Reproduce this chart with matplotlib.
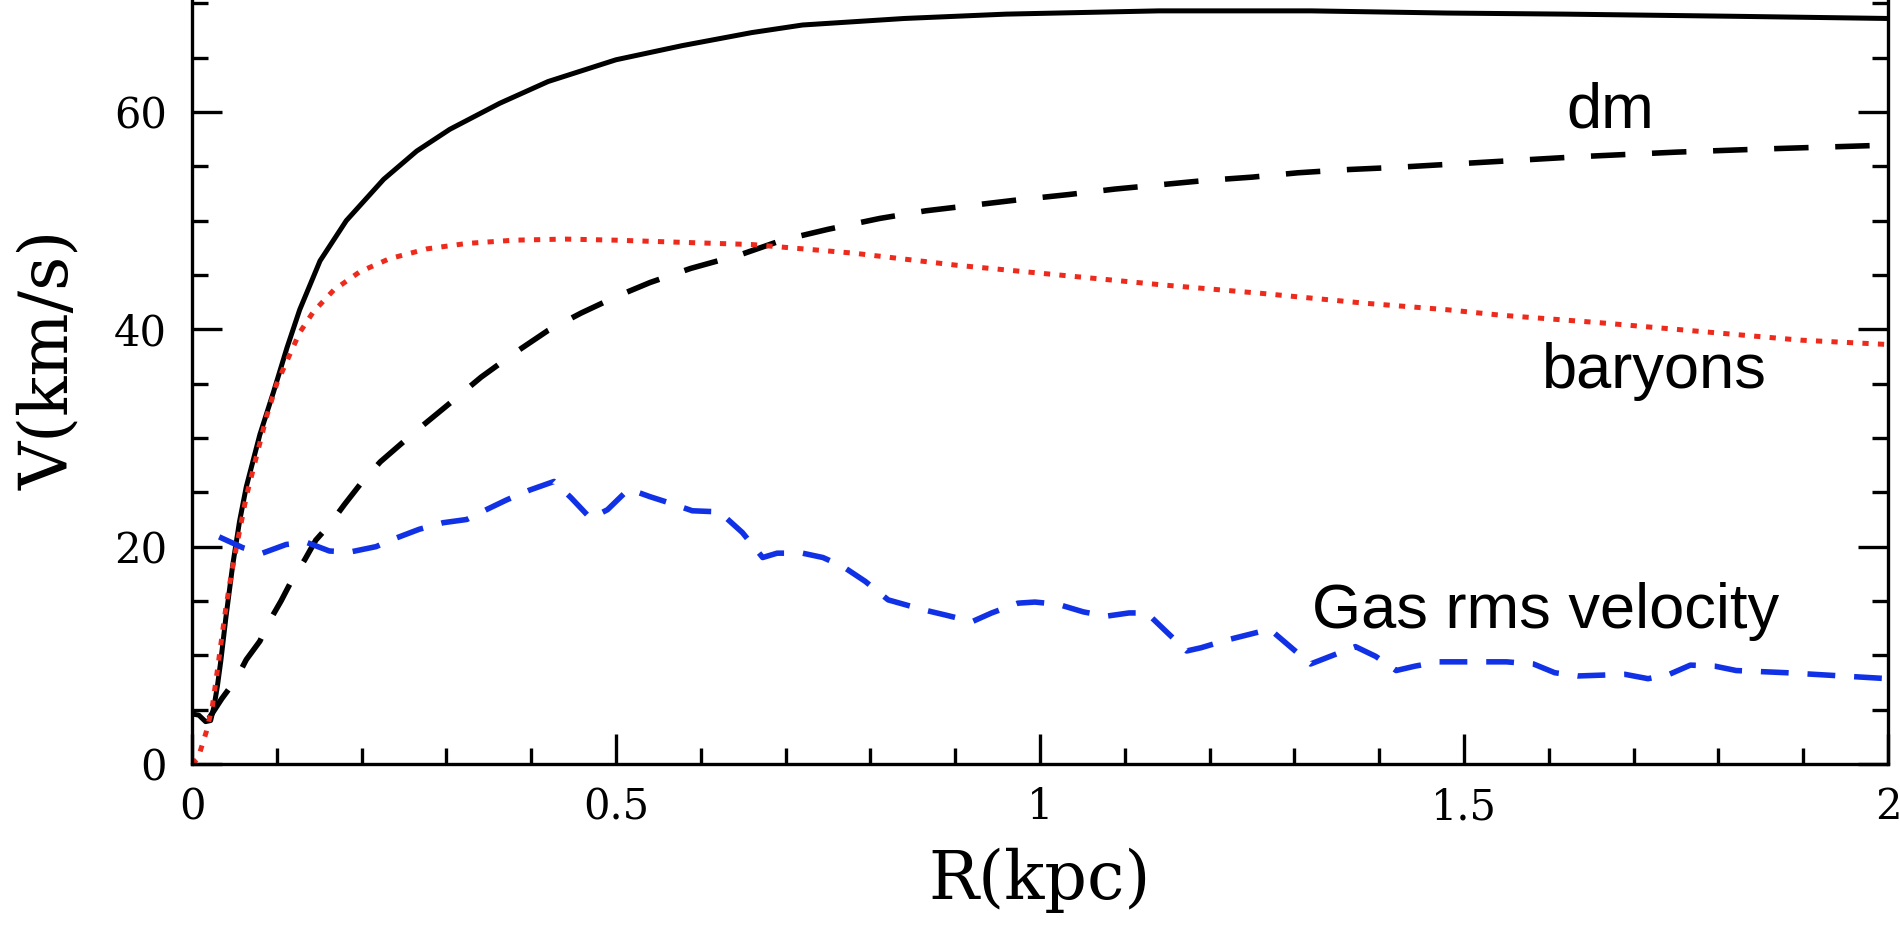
import matplotlib
matplotlib.use("Agg")
import matplotlib.pyplot as plt
from matplotlib.ticker import MultipleLocator, FuncFormatter

# Rotation curve components, V in km/s against R in kpc
r_total = [0.0, 0.008, 0.016, 0.022, 0.026, 0.030, 0.034, 0.040, 0.048, 0.056,
           0.064, 0.080, 0.096, 0.112, 0.127, 0.151, 0.182, 0.226, 0.265, 0.304,
           0.363, 0.42, 0.50, 0.578, 0.66, 0.72, 0.84, 0.96, 1.14, 1.32,
           1.48, 1.62, 1.82, 2.0]
v_total = [4.6, 4.5, 3.9, 4.0, 5.3, 7.2, 9.5, 13.5, 18.3, 22.3,
           25.5, 30.3, 34.2, 38.3, 41.8, 46.3, 50.0, 53.8, 56.4, 58.4,
           60.8, 62.8, 64.8, 66.1, 67.3, 68.0, 68.6, 69.0, 69.3, 69.3,
           69.1, 69.0, 68.8, 68.6]

r_dm = [0.02, 0.035, 0.052, 0.064, 0.080, 0.091, 0.105, 0.117, 0.133, 0.146,
        0.162, 0.180, 0.198, 0.222, 0.262, 0.301, 0.341, 0.38, 0.42, 0.459,
        0.50, 0.54, 0.588, 0.648, 0.696, 0.75, 0.811, 0.865, 0.919, 0.973,
        1.034, 1.088, 1.142, 1.196, 1.25, 1.304, 1.364, 1.42, 1.53, 1.64,
        1.75, 1.857, 1.98, 2.0]
v_dm = [4.2, 6.0, 7.8, 9.6, 11.3, 13.1, 15.0, 16.8, 18.8, 20.6,
        22.0, 23.9, 25.7, 27.8, 30.5, 33.0, 35.6, 37.8, 39.9, 41.5,
        43.0, 44.3, 45.6, 46.9, 48.2, 49.2, 50.2, 50.9, 51.4, 51.9,
        52.4, 52.9, 53.3, 53.7, 54.0, 54.4, 54.7, 54.9, 55.4, 55.9,
        56.3, 56.6, 56.9, 56.95]

r_bar = [0.0, 0.007, 0.017, 0.024, 0.028, 0.034, 0.040, 0.046, 0.054, 0.064,
         0.076, 0.088, 0.100, 0.116, 0.127, 0.143, 0.167, 0.198, 0.233, 0.277,
         0.324, 0.38, 0.44, 0.50, 0.578, 0.66, 0.781, 0.901, 1.022, 1.142,
         1.262, 1.383, 1.48, 1.543, 1.661, 1.779, 1.897, 2.0]
v_bar = [0.0, 0.5, 3.0, 5.3, 7.5, 11.0, 14.4, 17.3, 20.6, 24.6,
         28.3, 32.0, 35.0, 37.8, 39.7, 41.6, 43.6, 45.3, 46.5, 47.4,
         47.9, 48.2, 48.3, 48.2, 48.0, 47.8, 47.0, 45.9, 45.0, 44.1,
         43.3, 42.4, 41.8, 41.3, 40.6, 39.8, 39.0, 38.6]

r_gas = [0.032, 0.06, 0.083, 0.111, 0.135, 0.162, 0.186, 0.217, 0.241, 0.268,
         0.296, 0.324, 0.347, 0.371, 0.398, 0.427, 0.447, 0.47, 0.49, 0.515,
         0.54, 0.564, 0.59, 0.622, 0.649, 0.673, 0.69, 0.72, 0.744, 0.767,
         0.794, 0.821, 0.862, 0.889, 0.92, 0.943, 0.974, 0.994, 1.021, 1.051,
         1.078, 1.105, 1.126, 1.15, 1.173, 1.19, 1.22, 1.271, 1.295, 1.319,
         1.342, 1.372, 1.396, 1.42, 1.442, 1.47, 1.55, 1.582, 1.607, 1.634,
         1.69, 1.717, 1.742, 1.767, 1.796, 1.821, 1.88, 1.935, 2.0]
v_gas = [20.9, 19.9, 19.4, 20.2, 20.4, 19.6, 19.5, 20.0, 20.8, 21.6,
         22.2, 22.5, 23.4, 24.3, 25.2, 26.0, 24.5, 22.6, 23.4, 25.3,
         24.6, 24.0, 23.3, 23.2, 21.3, 19.0, 19.4, 19.4, 19.0, 18.2,
         16.8, 15.1, 14.2, 13.7, 13.1, 13.9, 14.8, 14.9, 14.7, 14.0,
         13.6, 13.9, 13.9, 12.1, 10.4, 10.7, 11.4, 12.4, 10.8, 9.2,
         9.9, 10.8, 9.9, 8.6, 9.0, 9.4, 9.4, 9.2, 8.4, 8.1,
         8.25, 7.85, 8.25, 9.1, 9.0, 8.6, 8.4, 8.15, 7.85]

fig = plt.figure(figsize=(19, 9.26), dpi=100)
ax = fig.add_axes([192 / 1900, 162 / 926, 1696 / 1900, 764 / 926])

ax.plot(r_total, v_total, color="black", lw=3.6,
        solid_capstyle="round", solid_joinstyle="round")
ax.plot(r_dm, v_dm, color="black", lw=4.0, linestyle=(0, (6.2, 4.8)))
ax.plot(r_bar, v_bar, color="#ee2a1c", lw=3.6, linestyle=(0, (1.25, 1.85)),
        dash_capstyle="butt")
ax.plot(r_gas, v_gas, color="#1131e6", lw=4.0, linestyle=(0, (5.0, 3.4)))

ax.set_xlim(0, 2)
ax.set_ylim(0, 70.3)

ax.spines["top"].set_visible(False)
for side in ("left", "right", "bottom"):
    ax.spines[side].set_linewidth(2.4)

ax.xaxis.set_major_locator(MultipleLocator(0.5))
ax.xaxis.set_minor_locator(MultipleLocator(0.1))
ax.yaxis.set_major_locator(MultipleLocator(20))
ax.yaxis.set_minor_locator(MultipleLocator(5))
ax.xaxis.set_major_formatter(FuncFormatter(lambda v, p: f"{v:g}"))
ax.yaxis.set_major_formatter(FuncFormatter(lambda v, p: f"{v:g}"))

ax.tick_params(which="both", direction="in", top=False, right=True,
               width=2.4, color="black")
ax.tick_params(which="major", length=21.5)
ax.tick_params(which="minor", length=11.5)
ax.tick_params(axis="x", which="major", pad=16)
ax.tick_params(axis="y", which="major", pad=18)

serif = "DejaVu Serif"
for lab in ax.get_xticklabels() + ax.get_yticklabels():
    lab.set_fontfamily(serif)
    lab.set_fontsize(30)

ax.set_xlabel("R(kpc)", fontsize=48, fontfamily=serif)
ax.set_ylabel("V(km/s)", fontsize=48, fontfamily=serif)
ax.xaxis.set_label_coords(0.5, (764 - 848) / 764)
ax.yaxis.set_label_coords((82 - 192) / 1696, 0.529)

sans = "Liberation Sans"
ax.text(1.673, 58.6, "dm", fontsize=45.5, fontfamily=sans,
        ha="center", va="baseline")
ax.text(1.725, 34.6, "baryons", fontsize=45.5, fontfamily=sans,
        ha="center", va="baseline")
ax.text(1.596, 12.5, "Gas rms velocity", fontsize=45.5, fontfamily=sans,
        ha="center", va="baseline")

fig.savefig("out.png", dpi=100)
